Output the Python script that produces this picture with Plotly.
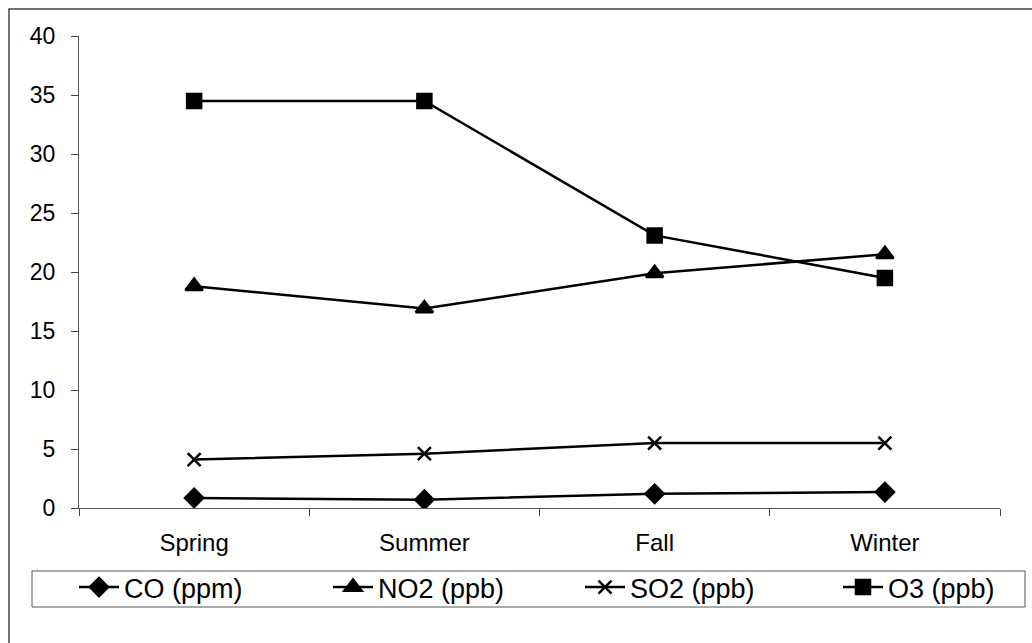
import plotly.graph_objects as go

# Seasonal mean pollutant levels
seasons = ["Spring", "Summer", "Fall", "Winter"]
co_ppm = [0.85, 0.7, 1.2, 1.35]
no2_ppb = [18.8, 16.9, 19.9, 21.5]
so2_ppb = [4.1, 4.6, 5.5, 5.5]
o3_ppb = [34.5, 34.5, 23.1, 19.5]

y_ticks = [0, 5, 10, 15, 20, 25, 30, 35, 40]

FONT = "Arial, Liberation Sans, sans-serif"

series = [
    ("CO (ppm)", co_ppm, "diamond", 14),
    ("NO2 (ppb)", no2_ppb, "triangle-up", 15),
    ("SO2 (ppb)", so2_ppb, "x-thin", 13),
    ("O3 (ppb)", o3_ppb, "square", 14),
]

# plot area in pixels: x 79..1000, y 36..508
L, R, T, B = 79, 1000, 36, 508
W, H = R - L, B - T

def px_x(p):
    return (p - L) / W

def px_y(p):
    return (B - p) / H

# each series gets its own legend box so the entries sit in one evenly spaced row
legend_left_px = [74, 328, 580, 838]
legend_ids = ["legend", "legend2", "legend3", "legend4"]

fig = go.Figure()
for (name, vals, sym, size), lid in zip(series, legend_ids):
    fig.add_trace(go.Scatter(
        x=seasons, y=vals, name=name, mode="lines+markers", legend=lid,
        line=dict(color="black", width=2.5),
        marker=dict(symbol=sym, size=size, color="black",
                    line=dict(color="black", width=2.5)),
    ))

legend_layouts = {}
for lid, left in zip(legend_ids, legend_left_px):
    legend_layouts[lid] = dict(
        orientation="h", x=px_x(left), y=px_y(563), xanchor="left", yanchor="top",
        borderwidth=0, bgcolor="rgba(0,0,0,0)",
        font=dict(family=FONT, size=27, color="black"),
        itemwidth=40,
    )

fig.update_layout(
    width=1032, height=643,
    margin=dict(l=L, r=1032 - R, t=T, b=643 - B, autoexpand=False),
    paper_bgcolor="white", plot_bgcolor="white",
    font=dict(family=FONT, size=23, color="black"),
    showlegend=True,
    xaxis=dict(
        type="category", range=[-0.5, 3.5], tickson="boundaries",
        ticks="outside", ticklen=7, tickcolor="#444444",
        showline=True, linecolor="#555555", linewidth=1,
        showgrid=False, zeroline=False, ticklabelstandoff=13,
        tickfont=dict(family=FONT, size=24, color="black"),
        fixedrange=True,
    ),
    yaxis=dict(
        range=[0, 40], tickvals=y_ticks, ticks="outside", ticklen=7,
        tickcolor="#444444", showline=True, linecolor="#555555", linewidth=1,
        showgrid=False, zeroline=False, ticklabelstandoff=11,
        tickfont=dict(family=FONT, size=23, color="black"),
        fixedrange=True,
    ),
    shapes=[
        # outer chart frame
        dict(type="rect", xref="paper", yref="paper",
             x0=px_x(9), y0=px_y(660), x1=px_x(1045), y1=px_y(9),
             line=dict(color="#444444", width=1.5), layer="below"),
        # legend frame
        dict(type="rect", xref="paper", yref="paper",
             x0=px_x(32), y0=px_y(607), x1=px_x(1025), y1=px_y(571),
             line=dict(color="#555555", width=1), layer="below"),
    ],
    **legend_layouts,
)

fig.write_html("out.html")
